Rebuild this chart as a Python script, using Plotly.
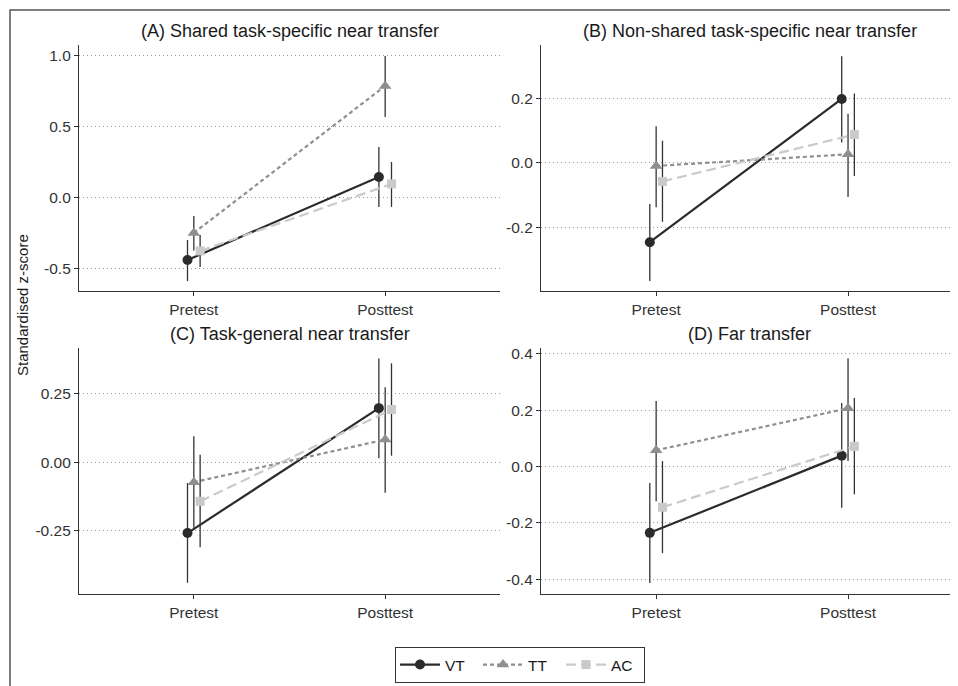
import plotly.graph_objects as go
from plotly.subplots import make_subplots

categories = ["Pretest", "Posttest"]
groups = ["VT", "TT", "AC"]
panel_titles = ["(A) Shared task-specific near transfer",
                "(B) Non-shared task-specific near transfer",
                "(C) Task-general near transfer",
                "(D) Far transfer"]

# means / lower / upper per group (VT, TT, AC), values for [Pretest, Posttest]
a_mean = [[-0.437, 0.148], [-0.246, 0.789], [-0.373, 0.099]]
a_lo = [[-0.585, -0.063], [-0.37, 0.57], [-0.486, -0.063]]
a_hi = [[-0.296, 0.359], [-0.127, 1.0], [-0.26, 0.253]]

b_mean = [[-0.245, 0.198], [-0.009, 0.027], [-0.057, 0.088]]
b_lo = [[-0.365, 0.063], [-0.137, -0.105], [-0.182, -0.04]]
b_hi = [[-0.127, 0.33], [0.114, 0.152], [0.069, 0.215]]

c_mean = [[-0.259, 0.198], [-0.073, 0.083], [-0.143, 0.193]]
c_lo = [[-0.441, 0.015], [-0.24, -0.112], [-0.311, 0.024]]
c_hi = [[-0.076, 0.38], [0.095, 0.274], [0.027, 0.362]]

d_mean = [[-0.235, 0.039], [0.058, 0.207], [-0.144, 0.072]]
d_lo = [[-0.413, -0.146], [-0.123, 0.02], [-0.307, -0.098]]
d_hi = [[-0.058, 0.226], [0.233, 0.385], [0.02, 0.244]]

a_ticks = [-0.5, 0.0, 0.5, 1.0]
a_ticktext = ["-0.5", "0.0", "0.5", "1.0"]
b_ticks = [-0.2, 0.0, 0.2]
b_ticktext = ["-0.2", "0.0", "0.2"]
c_ticks = [-0.25, 0.0, 0.25]
c_ticktext = ["-0.25", "0.00", "0.25"]
d_ticks = [-0.4, -0.2, 0.0, 0.2, 0.4]
d_ticktext = ["-0.4", "-0.2", "0.0", "0.2", "0.4"]

FONT = "Liberation Sans, Arial, Helvetica, sans-serif"
line_colors = ["#2b2b2b", "#8f8f8f", "#cacaca"]
dashes = ["solid", "4px,3px", "10px,5px"]
symbols = ["circle", "triangle-up", "square"]
msizes = [10, 11, 9]
offsets = [-0.033, 0.0, 0.033]

panels = [
    (a_mean, a_lo, a_hi, a_ticks, a_ticktext, [-0.655, 1.077]),
    (b_mean, b_lo, b_hi, b_ticks, b_ticktext, [-0.396, 0.365]),
    (c_mean, c_lo, c_hi, c_ticks, c_ticktext, [-0.482, 0.418]),
    (d_mean, d_lo, d_hi, d_ticks, d_ticktext, [-0.452, 0.421]),
]

fig = make_subplots(rows=2, cols=2)
pos = [(1, 1), (1, 2), (2, 1), (2, 2)]

for p, (means, los, his, tv, tt, yr) in enumerate(panels):
    r, c = pos[p]
    for g in range(3):
        xs = [i + offsets[g] for i in range(len(categories))]
        m = means[g]
        fig.add_trace(go.Scatter(
            x=xs, y=m, mode="lines+markers", name=groups[g],
            showlegend=(p == 0), legendgroup=groups[g],
            line=dict(color=line_colors[g], width=2.2, dash=dashes[g]),
            marker=dict(symbol=symbols[g], size=msizes[g], color=line_colors[g]),
            error_y=dict(type="data", symmetric=False,
                         array=[his[g][i] - m[i] for i in range(2)],
                         arrayminus=[m[i] - los[g][i] for i in range(2)],
                         color="#333333", thickness=1.3, width=0),
        ), row=r, col=c)
    fig.update_yaxes(range=yr, tickvals=tv, ticktext=tt, row=r, col=c)

# page has an 8px body margin: figure coords = page coords - 8
OFF = 8
FW, FH = 958 - OFF, 686 - OFF
L, R, T = 79 - OFF, 0, 45 - OFF
B = FH - (594 - OFF)
W, H = FW - L - R, FH - T - B
def px_x(x): return (x - OFF - L) / W
def px_y(y): return (FH - B - (y - OFF)) / H

xd_left = [0, px_x(500)]
xd_right = [px_x(541), 1]
yd_top = [px_y(291), 1]
yd_bot = [0, px_y(348)]

domains = {(1, 1): (xd_left, yd_top), (1, 2): (xd_right, yd_top),
           (2, 1): (xd_left, yd_bot), (2, 2): (xd_right, yd_bot)}
for (r, c), (xd, yd) in domains.items():
    xr = [-0.6, 1.6] if c == 1 else [-0.6, 1.573]
    fig.update_xaxes(domain=xd, range=xr, tickvals=[0, 1], ticktext=categories,
                     showgrid=False, zeroline=False, showline=True,
                     linecolor="#333333", linewidth=1.2, ticks="outside",
                     ticklen=4, tickcolor="#333333",
                     tickfont=dict(size=15.5, color="#333333", family=FONT),
                     row=r, col=c)
    fig.update_yaxes(domain=yd, showgrid=True, gridcolor="#9a9a9a",
                     griddash="1px,3px", gridwidth=1, zeroline=False,
                     showline=True, linecolor="#333333", linewidth=1.2,
                     ticks="outside", ticklen=4, tickcolor="#333333",
                     tickfont=dict(size=15.5, color="#333333", family=FONT),
                     row=r, col=c)

title_pos = [((xd_left[0] + xd_left[1]) / 2, px_y(31)),
             ((xd_right[0] + xd_right[1]) / 2, px_y(31)),
             ((xd_left[0] + xd_left[1]) / 2, px_y(334)),
             ((xd_right[0] + xd_right[1]) / 2, px_y(334))]
for t, (tx, ty) in zip(panel_titles, title_pos):
    fig.add_annotation(text=t, x=tx, y=ty, xref="paper", yref="paper",
                       showarrow=False, xanchor="center", yanchor="middle",
                       font=dict(size=18, color="#1a1a1a", family=FONT))

fig.add_annotation(text="Standardised z-score", x=px_x(22), y=px_y(305),
                   xref="paper", yref="paper", showarrow=False, textangle=-90,
                   xanchor="center", yanchor="middle",
                   font=dict(size=15, color="#1a1a1a", family=FONT))

# outer border
fig.add_shape(type="rect", xref="paper", yref="paper",
              x0=px_x(10), x1=px_x(1000), y0=px_y(760), y1=px_y(10),
              line=dict(color="#555555", width=1.5), fillcolor="rgba(0,0,0,0)")

fig.update_layout(
    width=FW, height=FH,
    margin=dict(l=L, r=R, t=T, b=B),
    paper_bgcolor="white", plot_bgcolor="white",
    font=dict(family=FONT, color="#333333"),
    legend=dict(orientation="h", x=px_x(520), y=px_y(665),
                xanchor="center", yanchor="middle",
                bordercolor="#333333", borderwidth=1,
                font=dict(size=15.5, color="#1a1a1a", family=FONT),
                itemwidth=40, tracegroupgap=0,
                entrywidth=28, entrywidthmode="pixels"),
)

fig.write_html("out.html")
